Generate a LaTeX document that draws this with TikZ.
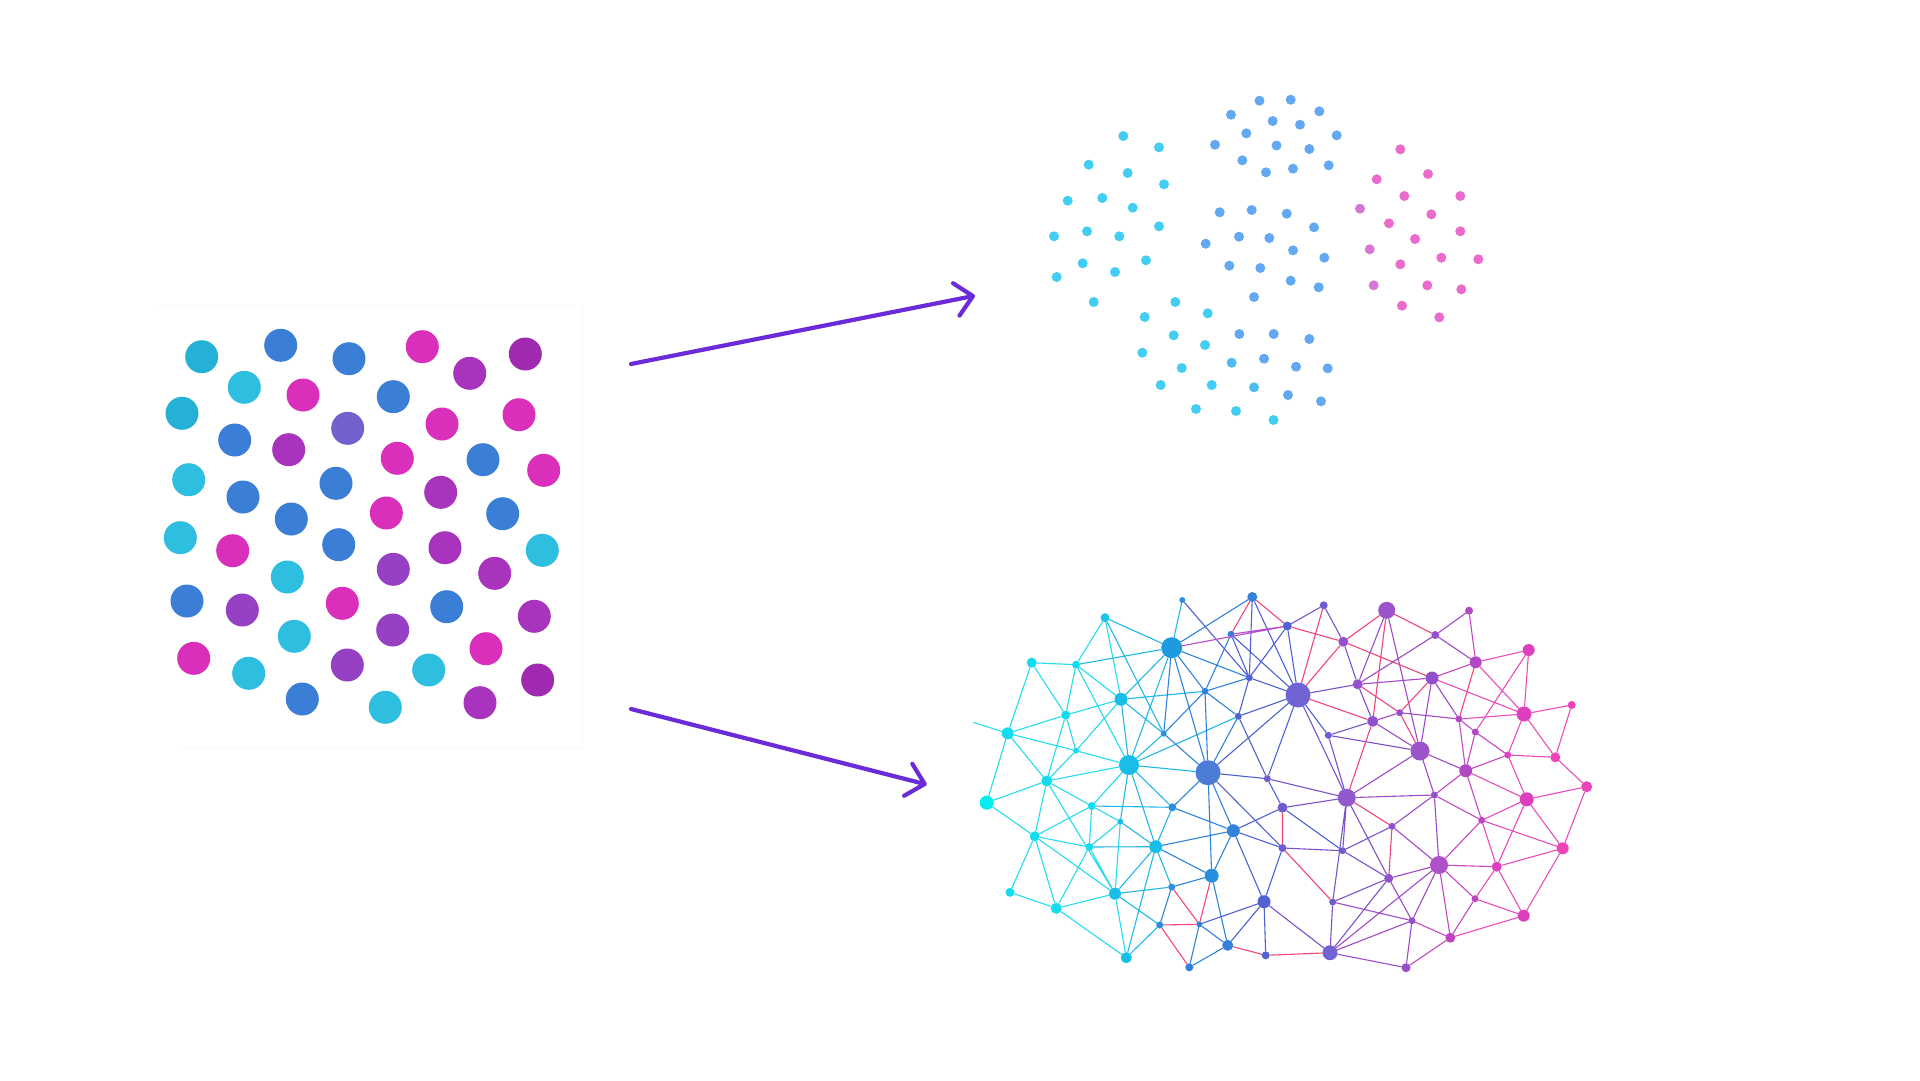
\documentclass[tikz,border=0pt]{standalone}
\usetikzlibrary{arrows.meta}
% node colours
\definecolor{cy0}{HTML}{00EEF2}\definecolor{cyA}{HTML}{14DCEE}\definecolor{cyB}{HTML}{18BEE8}\definecolor{cyBB}{HTML}{1CC6EA}
\definecolor{blA}{HTML}{2A8EDE}\definecolor{blF}{HTML}{1E9BE0}\definecolor{blB}{HTML}{3580DA}\definecolor{blS}{HTML}{4C7CD8}
\definecolor{ind}{HTML}{5262D2}\definecolor{vio}{HTML}{6E5CD0}\definecolor{vioK}{HTML}{7064D4}
\definecolor{pur}{HTML}{9250CA}\definecolor{purV}{HTML}{8E5ACC}\definecolor{purB}{HTML}{9C52CA}\definecolor{purC}{HTML}{AE50C8}
\definecolor{ppk}{HTML}{B248C4}\definecolor{mpk}{HTML}{C044C2}\definecolor{mag}{HTML}{DC40BE}\definecolor{magB}{HTML}{EE44BA}
% edge colours
\definecolor{eCc}{HTML}{26DCEE}\definecolor{eCBc}{HTML}{22B8E8}\definecolor{eBc}{HTML}{2E84DC}\definecolor{eIc}{HTML}{4E62D4}
\definecolor{eVc}{HTML}{7C52CC}\definecolor{ePc}{HTML}{A04ACA}\definecolor{ePMc}{HTML}{C448C4}\definecolor{eMc}{HTML}{EC4CBA}
\definecolor{eRc}{HTML}{F2467A}\definecolor{eMVc}{HTML}{B84CD0}
% grid colours
\definecolor{gTe}{HTML}{25B1D5}\definecolor{gCy}{HTML}{2EBEE0}\definecolor{gBl}{HTML}{3A7ED6}\definecolor{gMa}{HTML}{D92FBA}
\definecolor{gPu}{HTML}{A834BE}\definecolor{gDp}{HTML}{A02AB0}\definecolor{gVi}{HTML}{7460CC}\definecolor{gPv}{HTML}{9640C4}
% cluster colours
\definecolor{kCy}{HTML}{42CDF2}\definecolor{kBl}{HTML}{62A8F2}\definecolor{kLb}{HTML}{4EBAF2}\definecolor{kPk}{HTML}{EA6BCB}\definecolor{kOr}{HTML}{D878D6}
\definecolor{arrowc}{HTML}{6C2BD9}
\newcommand{\nnode}[5]{\node[nn,fill=#4,minimum size=#5pt] (#1) at (#2,#3) {};}
\newcommand{\gdot}[3]{\fill[#3] (#1,#2) circle[radius=16.5pt];}
\newcommand{\kdot}[3]{\fill[#3] (#1,#2) circle[radius=5pt];}
\begin{document}
\begin{tikzpicture}[x=1pt,y=-1pt,
  nn/.style={circle,inner sep=0pt,outer sep=0pt,draw=none},
  ed/.style={line width=1.1pt},
  eC/.style={ed,draw=eCc}, eCB/.style={ed,draw=eCBc}, eB/.style={ed,draw=eBc}, eI/.style={ed,draw=eIc},
  eV/.style={ed,draw=eVc}, eP/.style={ed,draw=ePc}, ePM/.style={ed,draw=ePMc}, eM/.style={ed,draw=eMc},
  eR/.style={ed,draw=eRc}, eMV/.style={ed,draw=eMVc},
  bigarrow/.style={draw=arrowc,line width=4.2pt,line cap=round,-{Straight Barb[length=17pt,width=33pt,round]}}]
\fill[white] (0,0) rectangle (1920,1080);
\useasboundingbox (0,0) rectangle (1920,1080);
% faint frame of the left picture
\draw[black!3,line width=0.8pt] (157,305) -- (582,305) -- (582,747) -- (183,747);
% left grid of dots
\gdot{201.7}{356.7}{gTe}\gdot{280.7}{345.3}{gBl}\gdot{349}{358.7}{gBl}\gdot{422.3}{346.7}{gMa}
\gdot{525.3}{354}{gDp}\gdot{469.7}{373.3}{gPu}\gdot{244.3}{387.3}{gCy}\gdot{303}{395}{gMa}
\gdot{393.3}{396.7}{gBl}\gdot{182}{413.3}{gTe}\gdot{519}{414.7}{gMa}\gdot{442}{424}{gMa}
\gdot{234.7}{440}{gBl}\gdot{347.7}{428.3}{gVi}\gdot{288.7}{449.7}{gPu}\gdot{397.3}{458.3}{gMa}
\gdot{483}{459.7}{gBl}\gdot{543.7}{470.3}{gMa}\gdot{188.7}{479.7}{gCy}\gdot{243}{497}{gBl}
\gdot{336}{483.3}{gBl}\gdot{440.7}{492.3}{gPu}\gdot{291.3}{519}{gBl}\gdot{386.3}{513}{gMa}
\gdot{502.7}{513.7}{gBl}\gdot{180.3}{537.7}{gCy}\gdot{232.7}{550.7}{gMa}\gdot{338.7}{544.7}{gBl}
\gdot{445}{547.7}{gPu}\gdot{542.3}{550.3}{gCy}\gdot{287.3}{577}{gCy}\gdot{393.3}{569.3}{gPv}
\gdot{494.7}{573.3}{gPu}\gdot{187}{601}{gBl}\gdot{242.3}{610}{gPv}\gdot{342.3}{603.3}{gMa}
\gdot{446.7}{606.7}{gBl}\gdot{534.3}{616.3}{gPu}\gdot{294.3}{636.3}{gCy}\gdot{392.7}{630}{gPv}
\gdot{486}{648.7}{gMa}\gdot{193.7}{658.3}{gMa}\gdot{248.7}{673.3}{gCy}\gdot{347.3}{665}{gPv}
\gdot{428.7}{670}{gCy}\gdot{537.7}{680}{gDp}\gdot{302.3}{699}{gBl}\gdot{385.3}{707.3}{gCy}
\gdot{480}{702.7}{gPu}
% arrows
\coordinate (a1s) at (631,364);\coordinate (a1e) at (975,295.7);
\coordinate (a2s) at (631,709);\coordinate (a2e) at (926.7,784.5);
\draw[bigarrow] (a1s) -- (a1e);
\draw[bigarrow] (a2s) -- (a2e);
% clustered dots (top right)
\foreach \x/\y in {1123.3/136,1159/147.3,1088.7/164.7,1127.7/173,1164/184.3,1067.7/200.7,1102.3/198,1132.7/207.7,1159/226.3,1054/236.3,1087/231.3,1119.3/236.3,1146/260.3,1082.7/263.3,1115/272,1056.7/277,1093.7/302,
 1175.3/302,1207.7/313.3,1144.7/317,1173.7/335.3,1205/345,1142.3/352.7,1181.7/368,1160.7/385,1211.7/385,1196/409,1236/411,1273.5/420}
  {\kdot{\x}{\y}{kCy}}
\foreach \x/\y in {1231.7/362.7,1254/387.3} {\kdot{\x}{\y}{kLb}}
\foreach \x/\y in {1259.5/100.7,1290.7/99.7,1319.3/111.3,1231/114.7,1272.7/121,1300/124.7,1246.3/133.3,1336.7/135.3,1215/144.7,1276.5/145.5,1309.3/149,1242.3/160.3,1266/172.3,1293/168.7,1328.7/165.3,
 1219.7/212.3,1251.7/210,1286.7/213.7,1205.7/243.7,1239/236.7,1269.3/238,1314/227.3,1293/250.3,1324.3/257.7,1229.3/265.7,1260.3/268,1290.7/280.7,1318.7/287.3,1254/297,
 1239.3/334,1273.7/334,1309.3/339,1264/358.7,1296/366.7,1327.7/368.3,1288/395,1321/401.3}
  {\kdot{\x}{\y}{kBl}}
\foreach \x/\y in {1400.3/149.3,1428/174,1376.7/179.3,1404.3/196,1460.3/196,1431.3/214.3,1389/223.3,1460.3/231.3,1415/239,1441.3/257.7,1478.3/259.3,1400.3/264.3,1427.3/285.3,1461.3/289.3,1402/305.7,1439.3/317.3}
  {\kdot{\x}{\y}{kPk}}
\foreach \x/\y in {1360/208.7,1369.7/249.3,1373.7/285.3} {\kdot{\x}{\y}{kOr}}
% network nodes
\nnode{E}{1105}{617.7}{cyBB}{9}\nnode{G}{1031.7}{662.7}{cyA}{10}\nnode{H}{1076}{664.7}{cyA}{8}
\nnode{L}{1121}{699.3}{cyB}{13}\nnode{M}{1065.7}{715}{cyA}{9}\nnode{O}{1007.7}{733.3}{cyA}{12}
\nnode{Q}{1076}{750.7}{cyA}{6}\nnode{R}{1129}{765}{cyB}{20}\nnode{U}{1046.7}{781}{cyA}{11}
\nnode{V}{986.7}{802.7}{cy0}{14}\nnode{W}{1091.7}{806}{cyA}{8}\nnode{X}{1120.3}{821.7}{cyB}{6}
\nnode{AB}{1034.7}{836.3}{cyA}{10}\nnode{AC}{1089.3}{847}{cyA}{8}\nnode{AD}{1155.7}{846.7}{cyB}{13}
\nnode{AH}{1115}{893.7}{cyB}{12}\nnode{AI}{1010}{892.3}{cyA}{9}\nnode{AK}{1056.3}{908.3}{cyA}{11}
\nnode{AO}{1126.3}{957.7}{cyB}{11}
\nnode{A}{1182.3}{600}{blA}{6}\nnode{F}{1171.7}{647.7}{blF}{21}\nnode{P}{1163.7}{733.7}{blA}{6}
\nnode{Y}{1172.3}{807.3}{blA}{8}\nnode{AG}{1171.7}{887}{blA}{7}\nnode{AL}{1159.7}{925}{blA}{7}
\nnode{AP}{1189.3}{967.3}{blB}{8}\nnode{D}{1231}{634.3}{blB}{7}\nnode{J}{1205}{691.3}{blB}{7}
\nnode{S}{1208}{772.7}{blS}{25}\nnode{Z}{1233.3}{830.7}{blB}{13}\nnode{AF}{1211.7}{875.7}{blA}{14}
\nnode{AM}{1199.3}{924.3}{blB}{6}\nnode{AN}{1227.7}{945.3}{blB}{11}\nnode{B}{1252.3}{597}{blB}{10}
\nnode{I}{1249.3}{677.7}{ind}{7}\nnode{N}{1238.3}{716.3}{ind}{7}\nnode{T}{1267.3}{778.7}{vio}{7}
\nnode{AA}{1282.5}{807.7}{vio}{10}\nnode{AE}{1282.5}{848}{vio}{8}\nnode{AJ}{1264}{901.7}{ind}{13}
\nnode{AQ}{1265.7}{955.3}{ind}{8}\nnode{C}{1287.3}{626}{ind}{9}\nnode{K}{1298}{695}{vioK}{25}
\nnode{BA}{1323.7}{605.3}{vio}{8}\nnode{BD}{1343.3}{641.7}{pur}{10}\nnode{BI}{1357.7}{684.3}{pur}{10}
\nnode{BP}{1328.3}{735.3}{vio}{7}\nnode{BV}{1346.7}{797.7}{purV}{18}\nnode{CB}{1342.7}{850.7}{vio}{7}
\nnode{CF}{1332.7}{902}{vio}{7}\nnode{CK}{1330}{952.7}{vioK}{15}\nnode{BB}{1386.7}{610.3}{purB}{17}
\nnode{BN}{1372.7}{721.3}{pur}{11}\nnode{BL}{1399.7}{712.7}{pur}{7}\nnode{BQ}{1420}{751}{purB}{19}
\nnode{BY}{1392}{826.3}{pur}{7}\nnode{CE}{1388.7}{878.3}{pur}{9}\nnode{CI}{1412}{920.7}{pur}{7}
\nnode{CL}{1406}{967.7}{pur}{9}\nnode{BE}{1435.3}{635}{pur}{8}\nnode{BH}{1432}{678}{pur}{13}
\nnode{BX}{1434.3}{795}{pur}{7}\nnode{CC}{1439}{865}{purC}{18}\nnode{CJ}{1450.3}{937.7}{mpk}{10}
\nnode{BC}{1469}{610.7}{ppk}{8}\nnode{BG}{1475.7}{662.3}{ppk}{12}\nnode{BM}{1459}{719}{ppk}{7}
\nnode{BO}{1475.3}{732}{ppk}{7}\nnode{BT}{1465.7}{770.7}{ppk}{13}\nnode{BZ}{1481.7}{820.3}{mpk}{7}
\nnode{CG}{1475}{898.7}{mpk}{7}\nnode{CD}{1496.7}{866.7}{mag}{10}\nnode{BR}{1507.7}{755}{mag}{7}
\nnode{BF}{1528.7}{650}{mag}{12}\nnode{BK}{1524}{714}{mag}{15}\nnode{BW}{1526.7}{799.3}{mag}{14}
\nnode{CH}{1523.7}{915.7}{mag}{12}\nnode{BJ}{1571.7}{705}{magB}{8}\nnode{BS}{1555.3}{757.3}{magB}{10}
\nnode{BU}{1586.7}{786.7}{magB}{11}\nnode{CA}{1562.7}{848.3}{magB}{12}
\coordinate (dangle) at (973.3,722.3);
% network edges
\draw[eC] (O)--(dangle) (G)--(O) (G)--(H) (G)--(M) (H)--(E) (H)--(M) (M)--(O) (M)--(Q) (M)--(U) (O)--(Q)
 (O)--(U) (O)--(V) (Q)--(U) (V)--(U) (V)--(AB) (U)--(W) (U)--(AB) (W)--(AB) (W)--(AC) (AB)--(AC)
 (AB)--(AI) (AB)--(AK) (AC)--(AK) (AI)--(AK) (AK)--(AH) (AK)--(AO) (AB)--(AH) (U)--(AH) (W)--(X)
 (X)--(AC) (AC)--(AH) (AH)--(AO) (X)--(AH) (H)--(L) (E)--(L) (L)--(M) (L)--(Q) (Q)--(R) (U)--(R)
 (W)--(R) (H)--(R);
\draw[eCB] (E)--(F) (H)--(F) (L)--(F) (L)--(R) (L)--(P) (E)--(P) (R)--(F) (R)--(P) (X)--(AD) (X)--(R)
 (AC)--(AD) (AH)--(AD) (AD)--(R) (AD)--(AO) (AH)--(AG) (AH)--(AL) (AL)--(AO) (A)--(F) (L)--(J)
 (R)--(S) (AD)--(Y) (AD)--(AG) (Y)--(R) (W)--(Y) (R)--(N);
\draw[eB] (B)--(F) (F)--(P) (F)--(S) (F)--(J) (F)--(I) (P)--(J) (P)--(S) (D)--(J) (J)--(N) (J)--(S)
 (J)--(I) (N)--(S) (S)--(Y) (Y)--(Z) (AD)--(Z) (AD)--(AF) (S)--(AF) (S)--(Z) (Z)--(AF) (AF)--(AG)
 (AG)--(AL) (AF)--(AN) (AN)--(AP) (AM)--(AP) (AM)--(AN);
\draw[eI] (A)--(I) (B)--(I) (B)--(K) (I)--(K) (I)--(N) (D)--(I) (N)--(K) (N)--(T) (S)--(T) (S)--(K)
 (K)--(T) (T)--(AA) (Z)--(AA) (Z)--(AE) (S)--(AE) (Z)--(AJ) (AE)--(AJ) (AJ)--(AN) (AJ)--(AM)
 (AJ)--(AQ) (C)--(I) (C)--(K) (D)--(K) (K)--(BP) (AA)--(CB);
\draw[eV] (BA)--(C) (BA)--(BD) (BD)--(BI) (BI)--(K) (BP)--(BV) (BV)--(CB) (BV)--(CF) (BV)--(CE)
 (CB)--(CE) (CB)--(BY) (CF)--(CK) (CE)--(CK) (CF)--(CE) (CK)--(AJ) (BP)--(BQ) (BI)--(BN) (BN)--(BP)
 (K)--(BV) (AA)--(BV) (T)--(BV) (AE)--(CB);
\draw[eP] (BB)--(BI) (BB)--(BQ) (BE)--(BI) (BE)--(BG) (BC)--(BE) (BH)--(BI) (BH)--(BQ) (BL)--(BN)
 (BL)--(BM) (BH)--(BM) (BQ)--(BT) (BV)--(BX) (BX)--(BY) (BX)--(CC) (BY)--(CC) (CC)--(CE) (CC)--(CI)
 (CE)--(CI) (CI)--(CK) (CI)--(CL) (CC)--(CK) (CK)--(CL) (CF)--(CI) (BN)--(BQ) (BQ)--(BV) (BQ)--(BX);
\draw[ePM] (BC)--(BG) (BG)--(BH) (BM)--(BO) (BO)--(BT) (BM)--(BT) (BX)--(BZ) (BX)--(BT) (BZ)--(CC)
 (CC)--(CD) (CC)--(CG) (CC)--(CJ) (CG)--(CJ) (CI)--(CJ) (CJ)--(CL) (BT)--(BR) (BO)--(BR) (BT)--(BZ);
\draw[eM] (BF)--(BG) (BF)--(BK) (BF)--(BO) (BG)--(BK) (BK)--(BJ) (BJ)--(BS) (BK)--(BS) (BK)--(BR)
 (BR)--(BS) (BS)--(BU) (BW)--(BU) (BW)--(CA) (BW)--(CD) (BZ)--(BW) (BZ)--(CD) (BZ)--(CA) (CA)--(CD)
 (CA)--(CH) (CA)--(BU) (CD)--(CG) (CD)--(CH) (CG)--(CH) (CH)--(CJ) (BK)--(BM) (BH)--(BK) (BT)--(BW)
 (BR)--(BW);
\draw[eMV] (D)--(C) (F)--(C);
\draw[eR] (B)--(C) (B)--(D) (BA)--(K) (BD)--(K) (C)--(BD) (BD)--(BH) (BD)--(BB) (BB)--(BE) (BB)--(BN)
 (K)--(BN) (BG)--(BM) (BH)--(BL) (AA)--(AE) (AG)--(AM) (AL)--(AP) (AN)--(AQ) (AF)--(AM) (CK)--(AQ)
 (AE)--(CF) (BV)--(BY) (BY)--(CE) (BI)--(BL) (BN)--(BV) (BL)--(BQ) (AL)--(AM);
\end{tikzpicture}
\end{document}
